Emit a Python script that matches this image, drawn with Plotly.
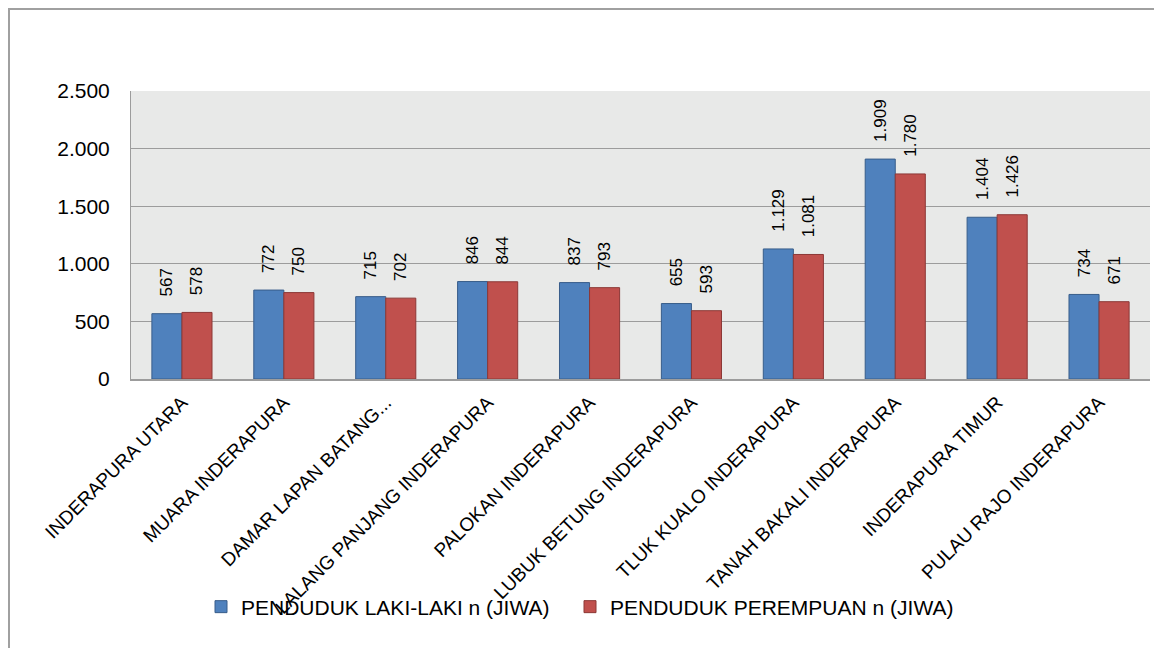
import plotly.graph_objects as go

categories = [
    "INDERAPURA UTARA",
    "MUARA INDERAPURA",
    "DAMAR LAPAN BATANG...",
    "LALANG PANJANG INDERAPURA",
    "PALOKAN INDERAPURA",
    "LUBUK BETUNG INDERAPURA",
    "TLUK KUALO INDERAPURA",
    "TANAH BAKALI INDERAPURA",
    "INDERAPURA TIMUR",
    "PULAU RAJO INDERAPURA",
]
laki = [567, 772, 715, 846, 837, 655, 1129, 1909, 1404, 734]
perempuan = [578, 750, 702, 844, 793, 593, 1081, 1780, 1426, 671]
series_names = ["PENDUDUK LAKI-LAKI n (JIWA)", "PENDUDUK PEREMPUAN n (JIWA)"]
y_ticks = [0, 500, 1000, 1500, 2000, 2500]

FONT = "Liberation Sans, Arial, sans-serif"
PAD = "\u00a0\u00a0\u00a0"

fig = go.Figure()
for vals, name, col, lcol, lg in [
    (laki, series_names[0], "#4f81bd", "#385d8a", "legend"),
    (perempuan, series_names[1], "#c0504d", "#8c3836", "legend2"),
]:
    fig.add_trace(go.Bar(
        x=categories, y=vals, name=name, legend=lg,
        marker=dict(color=col, line=dict(color=lcol, width=1)),
        texttemplate=PAD + "%{y:,}", textposition="outside", textangle=-90,
        constraintext="none",
        textfont=dict(size=17, color="#000000", family=FONT),
        cliponaxis=False,
    ))

# page body adds an 8px offset; figure is sized to fill the rest of the window
W, H = 1154, 640
ml, mr, mt, mb = 123, 12, 83, 269
pw, ph = W - ml - mr, H - mt - mb

legend_common = dict(
    orientation="h", xanchor="left",
    y=(mt + ph - 599) / ph, yanchor="middle",
    font=dict(size=21, family=FONT, color="#000000"),
    itemwidth=30, bgcolor="rgba(0,0,0,0)",
)

fig.update_layout(
    width=W, height=H,
    margin=dict(l=ml, r=mr, t=mt, b=mb, autoexpand=False),
    separators=",.",
    barmode="group",
    bargap=0.41,
    bargroupgap=0,
    plot_bgcolor="#e8e9e8",
    paper_bgcolor="#ffffff",
    font=dict(family=FONT, size=17, color="#000000"),
    showlegend=True,
    legend=dict(x=(193 - ml) / pw, **legend_common),
    legend2=dict(x=(562 - ml) / pw, **legend_common),
)
fig.update_yaxes(
    range=[0, 2500], tickvals=y_ticks, tickformat=",",
    showgrid=True, gridcolor="#9c9c9c", gridwidth=1,
    showline=True, linecolor="#9c9c9c", linewidth=1,
    ticks="", ticklabelstandoff=16, automargin=False,
    tickfont=dict(size=21, family=FONT), zeroline=False,
)
fig.update_xaxes(
    tickangle=-45, tickfont=dict(size=19, family=FONT),
    showline=True, linecolor="#9c9c9c", linewidth=2,
    ticks="", ticklabelstandoff=3, automargin=False,
)
# outer chart border
fig.add_shape(
    type="rect", xref="paper", yref="paper",
    x0=(1 - ml) / pw, x1=(W + 20 - ml) / pw,
    y0=-(H + 20 - mt - ph) / ph, y1=(mt + ph - 1) / ph,
    line=dict(color="#a0a0a0", width=2), fillcolor="rgba(0,0,0,0)",
    layer="below",
)

fig.write_html("out.html")
